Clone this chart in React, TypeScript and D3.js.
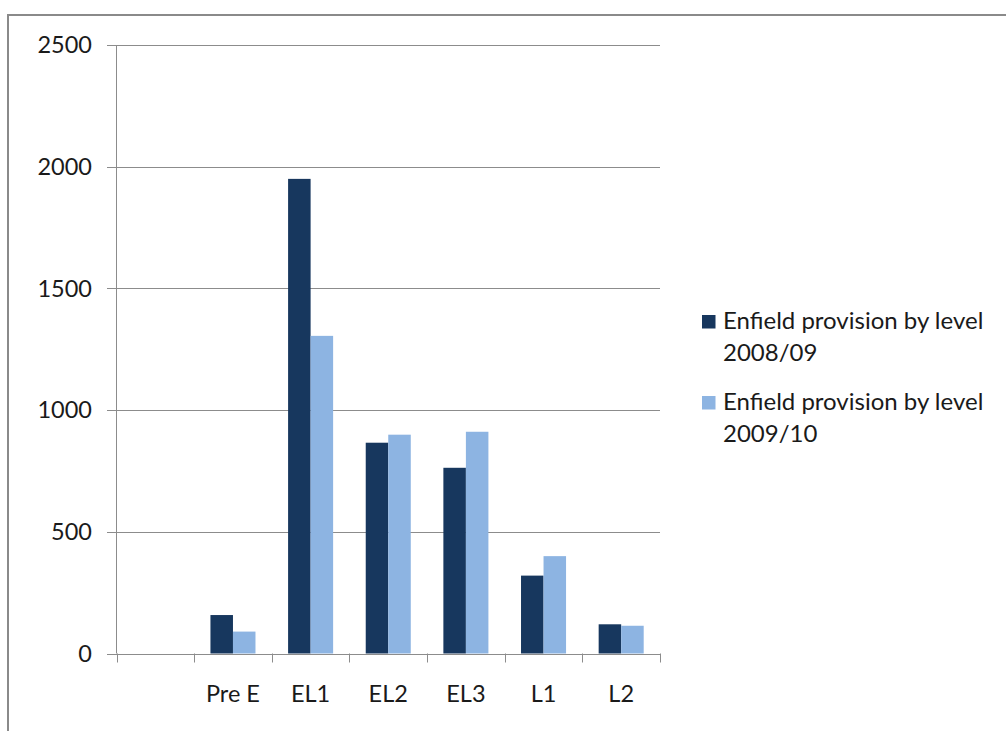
import React from "react";
import * as d3 from "d3";

const categories = ["", "Pre E", "EL1", "EL2", "EL3", "L1", "L2"];
const series2008 = [null, 158, 1950, 866, 763, 320, 120];
const series2009 = [null, 90, 1305, 899, 911, 400, 114];
const seriesNames = [
  ["Enfield provision by level", "2008/09"],
  ["Enfield provision by level", "2009/10"],
];
const yTicks = [0, 500, 1000, 1500, 2000, 2500];

const COLORS = ["#17375E", "#8DB4E2"];
const FONT = "Lato, 'Open Sans', sans-serif";

export default function App() {
  const W = 1006;
  const H = 731;
  const left = 116.5;
  const right = 660;
  const top = 45;
  const bottom = 653.5;

  const x = d3.scaleBand<string>().domain(categories.map((c, i) => String(i))).range([left, right]).paddingInner(0).paddingOuter(0);
  const y = d3.scaleLinear().domain([0, 2500]).range([bottom, top]);
  const slot = x.bandwidth();
  const barW = slot * 0.29;

  const series = [series2008, series2009];

  return (
    <svg width={W} height={H} style={{ position: "absolute", left: 0, top: 0 }}>
      <rect x={0} y={0} width={W} height={H} fill="#fff" />
      {/* outer chart frame */}
      <rect x={8} y={15} width={1100} height={800} fill="none" stroke="#8a8a8a" strokeWidth={2} />

      {/* gridlines and y tick labels */}
      {yTicks.map((t) => (
        <g key={t}>
          <line x1={107} x2={right} y1={Math.round(y(t)) + 0.5} y2={Math.round(y(t)) + 0.5} stroke="#8c8c8c" strokeWidth={1} />
          <text x={92} y={y(t)} dy="0.35em" textAnchor="end" fontFamily={FONT} fontSize={23.5} fill="#1a1a1a">
            {t}
          </text>
        </g>
      ))}

      {/* bars */}
      {categories.map((c, i) => {
        const cx = (x(String(i)) as number) + slot / 2;
        return series.map((s, k) => {
          const v = s[i];
          if (v == null) return null;
          const bx = k === 0 ? cx - barW : cx;
          return (
            <rect key={`${i}-${k}`} x={bx} y={y(v)} width={barW} height={y(0) - y(v)} fill={COLORS[k]} />
          );
        });
      })}

      {/* y axis */}
      <line x1={left} x2={left} y1={top} y2={bottom} stroke="#8c8c8c" strokeWidth={1} />
      {/* x axis */}
      <line x1={107} x2={right} y1={Math.round(bottom) + 0.5} y2={Math.round(bottom) + 0.5} stroke="#8c8c8c" strokeWidth={1} />
      {d3.range(categories.length + 1).map((i) => {
        const tx = Math.round(left + i * slot) + 0.5;
        return <line key={i} x1={tx} x2={tx} y1={bottom} y2={bottom + 9} stroke="#8c8c8c" strokeWidth={1} />;
      })}
      {categories.map((c, i) => (
        <text key={i} x={(x(String(i)) as number) + slot / 2} y={694} dy="0.35em" textAnchor="middle" fontFamily={FONT} fontSize={23.5} fill="#1a1a1a">
          {c}
        </text>
      ))}

      {/* legend */}
      {seriesNames.map((lines, k) => {
        const base = 329 + k * 81;
        return (
          <g key={k}>
            <rect x={702} y={base - 14} width={13.5} height={13.5} fill={COLORS[k]} />
            {lines.map((ln, j) => (
              <text key={j} x={723} y={base + j * 32} fontFamily={FONT} fontSize={24} fill="#1a1a1a">
                {ln}
              </text>
            ))}
          </g>
        );
      })}
    </svg>
  );
}
